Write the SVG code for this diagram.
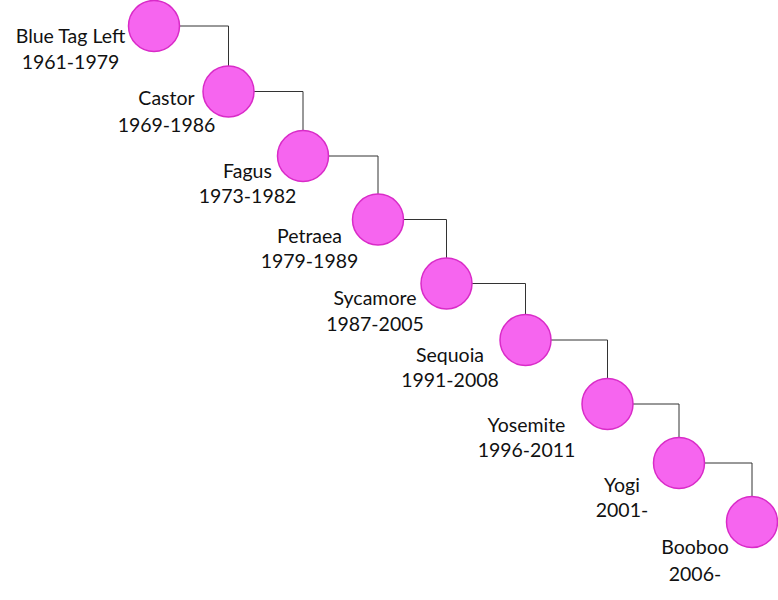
<svg xmlns="http://www.w3.org/2000/svg" width="778" height="600" viewBox="0 0 778 600">
<style>
.n{fill:#f665ef;stroke:#d92bc8;stroke-width:1.5}
.c{fill:none;stroke:#333;stroke-width:1}
text{font-family:Lato,"Open Sans","Liberation Sans",sans-serif;font-size:19.5px;fill:#111;text-anchor:middle}
</style>
<rect width="778" height="600" fill="#fff"/>
<g id="connectors">
<path class="c" d="M179.5 26H228.5V66.5"/>
<path class="c" d="M253.5 91.5H303V131"/>
<path class="c" d="M328 156H378V194.5"/>
<path class="c" d="M403 219.5H446.5V258.5"/>
<path class="c" d="M471.5 283.5H525.5V315"/>
<path class="c" d="M550.5 340H607.5V379"/>
<path class="c" d="M632.5 404H679V438"/>
<path class="c" d="M704 463H752V497"/>
</g>
<g id="n1"><circle class="n" cx="154" cy="26" r="25.5"/><text x="70.5" y="43">Blue Tag Left</text><text x="70.5" y="69">1961-1979</text></g>
<g id="n2"><circle class="n" cx="228.5" cy="91.5" r="25.5"/><text x="166.5" y="105">Castor</text><text x="166.5" y="132">1969-1986</text></g>
<g id="n3"><circle class="n" cx="303" cy="156" r="25.5"/><text x="247.5" y="177.5">Fagus</text><text x="247.5" y="203">1973-1982</text></g>
<g id="n4"><circle class="n" cx="378" cy="219.5" r="25.5"/><text x="309.5" y="242.5">Petraea</text><text x="309.5" y="268">1979-1989</text></g>
<g id="n5"><circle class="n" cx="446.5" cy="283.5" r="25.5"/><text x="375" y="305">Sycamore</text><text x="375" y="330.5">1987-2005</text></g>
<g id="n6"><circle class="n" cx="525.5" cy="340" r="25.5"/><text x="450" y="361.5">Sequoia</text><text x="450" y="387">1991-2008</text></g>
<g id="n7"><circle class="n" cx="607.5" cy="404" r="25.5"/><text x="526.5" y="431.5">Yosemite</text><text x="526.5" y="457">1996-2011</text></g>
<g id="n8"><circle class="n" cx="679" cy="463" r="25.5"/><text x="622" y="492">Yogi</text><text x="622" y="517">2001-</text></g>
<g id="n9"><circle class="n" cx="752" cy="522" r="25.5"/><text x="695" y="554">Booboo</text><text x="695" y="580.5">2006-</text></g>
</svg>
